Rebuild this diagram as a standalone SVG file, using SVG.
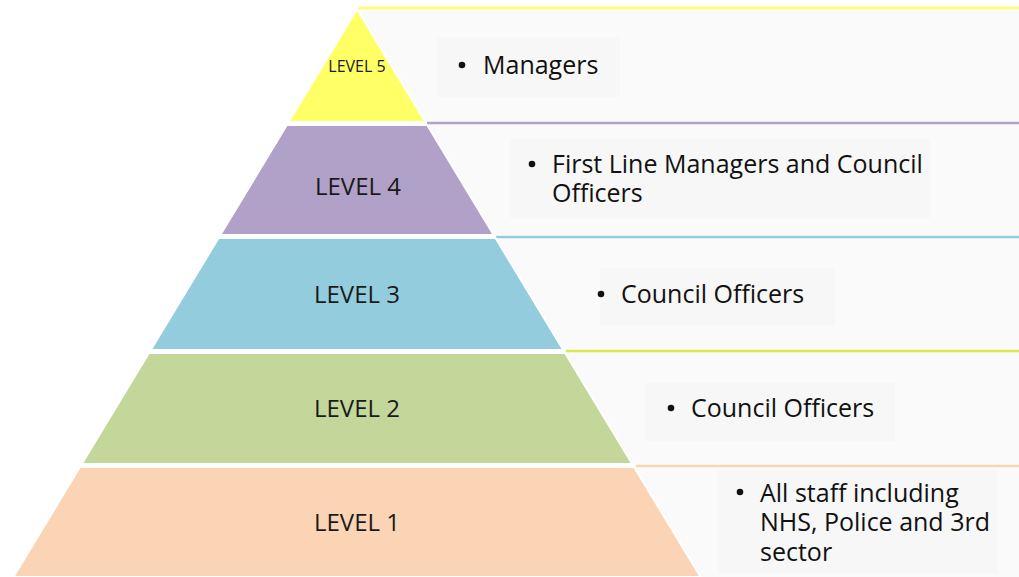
<svg xmlns="http://www.w3.org/2000/svg" width="1019" height="577" viewBox="0 0 1019 577">
<style>
.panel{fill:#fafafa}
.tbox{fill:#f7f7f7}
.lvl{stroke:#ffffff;stroke-width:2}
.lbl{font-family:"Open Sans","Liberation Sans",sans-serif;font-size:24px;fill:#1a1a1a;text-anchor:middle}
.txt{font-family:"Open Sans","Liberation Sans",sans-serif;font-size:25px;fill:#111111}
.bul{fill:#111111}
.tl{stroke-width:2.5;fill:none}
</style>
<rect width="1019" height="577" fill="#ffffff"/>
<g id="panels">
<rect class="panel" x="357" y="9" width="662" height="113"/>
<rect class="panel" x="420" y="124" width="599" height="111"/>
<rect class="panel" x="490" y="238" width="529" height="112"/>
<rect class="panel" x="560" y="352" width="459" height="113"/>
<rect class="panel" x="630" y="467" width="389" height="110"/>
<rect class="tbox" x="437" y="38" width="183" height="59"/>
<rect class="tbox" x="510" y="138" width="420" height="80"/>
<rect class="tbox" x="600" y="268" width="235" height="58"/>
<rect class="tbox" x="645" y="383" width="250" height="58"/>
<rect class="tbox" x="718" y="470" width="280" height="104"/>
</g>
<g id="connectors">
<line class="tl" x1="358" y1="8" x2="1019" y2="8" stroke="#ffff66"/>
<line class="tl" x1="427" y1="123" x2="1019" y2="123" stroke="#b3a2c7"/>
<line class="tl" x1="496" y1="237" x2="1019" y2="237" stroke="#93cddd"/>
<line class="tl" x1="566" y1="351" x2="1019" y2="351" stroke="#d7e94f"/>
<line class="tl" x1="636" y1="466" x2="1019" y2="466" stroke="#fcd5b5"/>
</g>
<g id="level5">
<polygon class="lvl" points="357,9 425.4,122 288.6,122" fill="#ffff66"/>
<text class="lbl" x="357" y="72" style="font-size:16px">LEVEL 5</text>
</g>
<g id="level4">
<polygon class="lvl" points="286.8,125 427.2,125 493.7,235 220.3,235" fill="#b1a0c7"/>
<text class="lbl" x="358" y="195">LEVEL  4</text>
</g>
<g id="level3">
<polygon class="lvl" points="218.5,238 495.5,238 563.3,350 150.7,350" fill="#93cddd"/>
<text class="lbl" x="357" y="303">LEVEL 3</text>
</g>
<g id="level2">
<polygon class="lvl" points="148.9,353 565.1,353 632.3,464 81.7,464" fill="#c4d79b"/>
<text class="lbl" x="357" y="417">LEVEL 2</text>
</g>
<g id="level1">
<polygon class="lvl" points="79.9,467 634.1,467 700.6,577 13.4,577" fill="#fad4b4"/>
<text class="lbl" x="357" y="531">LEVEL 1</text>
</g>
<g id="text5">
<circle class="bul" cx="462" cy="65" r="3.3"/>
<text class="txt" x="483" y="74">Managers</text>
</g>
<g id="text4">
<circle class="bul" cx="532" cy="164" r="3.3"/>
<text class="txt" x="552" y="173">First Line Managers and Council</text>
<text class="txt" x="552" y="202">Officers</text>
</g>
<g id="text3">
<circle class="bul" cx="601" cy="294" r="3.3"/>
<text class="txt" x="621" y="303">Council Officers</text>
</g>
<g id="text2">
<circle class="bul" cx="671" cy="408" r="3.3"/>
<text class="txt" x="691" y="417">Council Officers</text>
</g>
<g id="text1">
<circle class="bul" cx="740" cy="492" r="3.3"/>
<text class="txt" x="760" y="502">All staff including</text>
<text class="txt" x="760" y="531">NHS, Police and 3rd</text>
<text class="txt" x="760" y="561">sector</text>
</g>
</svg>
